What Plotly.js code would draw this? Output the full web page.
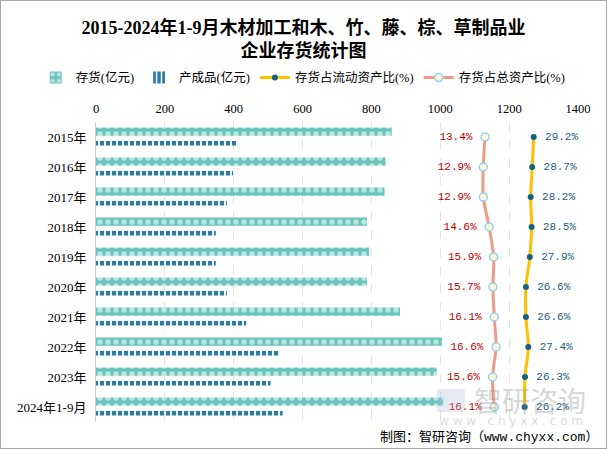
<!DOCTYPE html>
<html>
<head>
<meta charset="utf-8">
<script src="https://cdn.plot.ly/plotly-3.0.1.min.js"></script>
<style>
  html, body { margin: 0; padding: 0; background: #fff; }
  #wrap { position: relative; width: 607px; height: 449px; }
  #chart { position: absolute; left: 0; top: 0; width: 607px; height: 449px; }
  #frame { position: absolute; left: 0; top: 0; width: 607px; height: 449px; box-sizing: border-box; border: 1px solid #a6a6a6; pointer-events: none; }
</style>
</head>
<body>
<div id="wrap"><div id="chart"></div><div id="frame"></div></div>
<script>
const years = ['2015年','2016年','2017年','2018年','2019年','2020年','2021年','2022年','2023年','2024年1-9月'];
const inventory = [859, 841, 838, 787, 793, 787, 883, 1005, 990, 1009];      // 存货(亿元)
const finishedGoods = [411, 398, 380, 348, 348, 380, 436, 534, 507, 542];     // 产成品(亿元)
const ratioCurrent = [29.2, 28.7, 28.2, 28.5, 27.9, 26.6, 26.6, 27.4, 26.3, 26.2]; // 存货占流动资产比(%)
const ratioTotal = [13.4, 12.9, 12.9, 14.6, 15.9, 15.7, 16.1, 16.6, 15.6, 16.1];   // 存货占总资产比(%)
const xTicks = [0, 200, 400, 600, 800, 1000, 1200, 1400];

const serif = "'Liberation Serif', 'Noto Sans CJK SC', serif";
const mono = "'Liberation Mono', 'Noto Sans CJK SC', monospace";

const traces = [
  {
    type: 'bar', orientation: 'h', name: '存货(亿元)',
    x: inventory, y: years, offset: -0.32, width: 0.28,
    marker: { color: '#6cc5bd', line: { width: 0 },
      pattern: { shape: '.', fgcolor: '#b9e6e1', bgcolor: '#6cc5bd', size: 8, solidity: 0.35 } },
    hoverinfo: 'x+y'
  },
  {
    type: 'bar', orientation: 'h', name: '产成品(亿元)',
    x: finishedGoods, y: years, offset: 0.13, width: 0.15,
    marker: { color: '#2a7aa3', line: { width: 0 },
      pattern: { shape: '|', fgcolor: '#ffffff', bgcolor: '#2a7aa3', size: 6, solidity: 0.3 } },
    hoverinfo: 'x+y'
  },
  {
    type: 'scatter', mode: 'lines+markers+text', name: '存货占流动资产比(%)',
    x: ratioCurrent, y: years, xaxis: 'x3',
    line: { color: '#ffc000', width: 3, shape: 'spline' },
    marker: { symbol: 'circle', size: 6, color: '#17607f' },
    text: ratioCurrent.map(v => '\u00a0' + v.toFixed(1) + '%'),
    textposition: 'middle right',
    textfont: { family: mono, size: 11, color: '#1a5e80' },
    cliponaxis: false
  },
  {
    type: 'scatter', mode: 'lines+markers+text', name: '存货占总资产比(%)',
    x: ratioTotal, y: years, xaxis: 'x2',
    line: { color: '#ef9a86', width: 3, shape: 'spline' },
    marker: { symbol: 'circle', size: 8, color: '#fdf6df', line: { color: '#8fd3ef', width: 1.5 } },
    text: ratioTotal.map(v => v.toFixed(1) + '%\u00a0'),
    textposition: 'middle left',
    textfont: { family: mono, size: 11, color: '#c00000' },
    cliponaxis: false
  }
];

const layout = {
  width: 607, height: 449,
  margin: { l: 96, r: 29, t: 122, b: 27 },
  paper_bgcolor: '#ffffff', plot_bgcolor: '#ffffff',
  font: { family: serif, size: 12, color: '#000' },
  title: {
    text: '2015-2024年1-9月木材加工和木、竹、藤、棕、草制品业<br>企业存货统计图',
    font: { family: serif, size: 18, color: '#000', weight: 'bold' },
    x: 0.5, xanchor: 'center', xref: 'container', yref: 'container', y: 1 - 34 / 449, yanchor: 'middle'
  },
  barmode: 'overlay',
  showlegend: true,
  legend: {
    orientation: 'h', x: -0.125, xanchor: 'left', y: 1.197, yanchor: 'top',
    font: { family: serif, size: 12.5, color: '#000' },
    itemwidth: 30, traceorder: 'normal', bgcolor: 'rgba(0,0,0,0)'
  },
  xaxis: {
    side: 'top', range: [0, 1400], tickvals: xTicks,
    showgrid: true, gridcolor: '#e3e3e3', griddash: 'dash', gridwidth: 1,
    zeroline: false, showline: false, ticks: '',
    tickfont: { family: serif, size: 12.5, color: '#000' },
    ticklabelstandoff: 6, fixedrange: true
  },
  xaxis2: { overlaying: 'x', range: [-100, 40.5], visible: false, fixedrange: true },
  xaxis3: { overlaying: 'x', range: [-117, 44], visible: false, fixedrange: true },
  yaxis: {
    type: 'category', autorange: false, range: [9.5, -0.5],
    showgrid: false, zeroline: false,
    showline: true, linecolor: '#cfcfcf', linewidth: 1, ticks: '',
    tickfont: { family: serif, size: 13, color: '#000' },
    ticklabelstandoff: 6, fixedrange: true
  },
  annotations: [
    { text: '智研咨询', xref: 'paper', yref: 'paper', x: 1.02, y: (422 - 400) / 300,
      xanchor: 'right', yanchor: 'middle', showarrow: false,
      font: { family: "'Noto Sans CJK SC', sans-serif", size: 28, color: 'rgba(150,150,150,0.4)' } },
    { text: 'w w w . c h y x x . c o m', xref: 'paper', yref: 'paper', x: 1.015, y: (422 - 421) / 300,
      xanchor: 'right', yanchor: 'middle', showarrow: false,
      font: { family: "'DejaVu Sans', sans-serif", size: 12, color: 'rgba(160,160,160,0.4)' } },
    { text: '制图：智研咨询（www.chyxx.com）', xref: 'paper', yref: 'paper', x: (600 - 96) / 482, y: (422 - 437) / 300,
      xanchor: 'right', yanchor: 'middle', showarrow: false,
      font: { family: "'Liberation Mono', 'Noto Sans CJK SC', monospace", size: 13, color: '#000' } }
  ],
  shapes: [
    { type: 'rect', xref: 'paper', yref: 'paper', x0: (437 - 96) / 482, x1: (465 - 96) / 482,
      y0: (422 - 412) / 300, y1: (422 - 389) / 300, fillcolor: 'rgba(170,185,215,0.3)', line: { width: 0 }, layer: 'above' }
  ]
};

Plotly.newPlot('chart', traces, layout, { displayModeBar: false, staticPlot: true });
</script>
</body>
</html>
